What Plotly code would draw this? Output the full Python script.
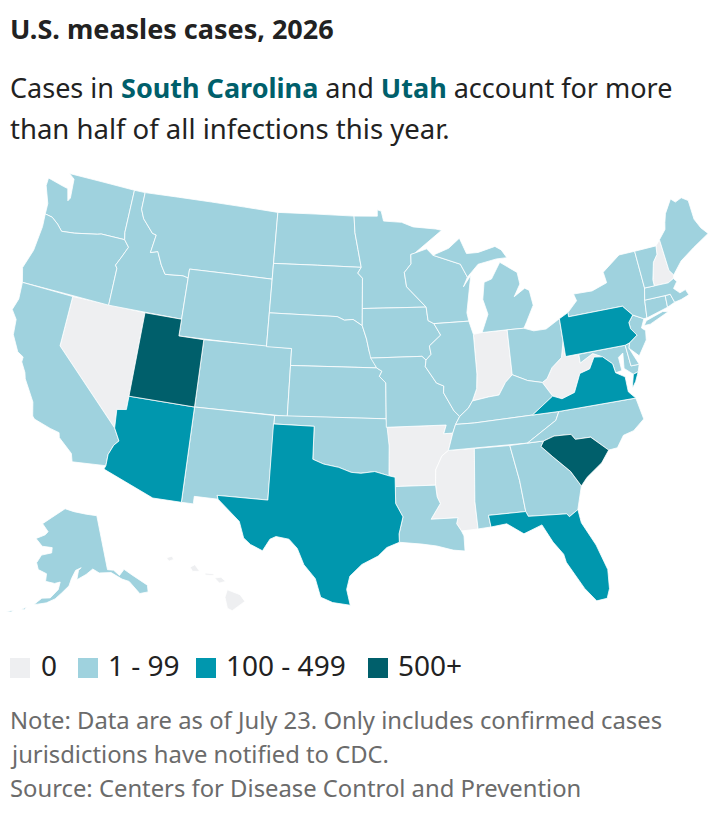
import plotly.graph_objects as go

# Case bucket per state
states_zero = ["NV", "IN", "WV", "AR", "MS", "NH", "HI"]
states_mid = ["AZ", "TX", "FL", "VA", "PA"]
states_high = ["SC", "UT"]
states_low = ["WA", "OR", "CA", "ID", "MT", "WY", "CO", "NM", "ND", "SD", "NE", "KS", "OK",
              "MN", "IA", "MO", "LA", "WI", "IL", "MI", "OH", "KY", "TN", "AL", "GA", "NC",
              "MD", "DE", "NJ", "NY", "CT", "RI", "MA", "VT", "ME", "AK"]

bucket_names = ["0", "1 - 99", "100 - 499", "500+"]
bucket_colors = ["#eeeff1", "#9fd2de", "#0097ae", "#005f6b"]
bucket_states = [states_zero, states_low, states_mid, states_high]

# Hand-approximated state outlines (lon, lat). The plotly topojson needs the CDN, which is
# not reachable here, so these are a coarse stand-in for the base map. None splits parts.
outlines = {
    "WA": [(-124.7,48.38),(-123.2,48.15),(-122.8,48.1),(-122.5,47.4),(-122.35,47.6),(-122.5,48.75),(-123.03,49),(-117.03,49),(-117.04,46.42),(-116.92,45.99),(-118.98,46),(-119.3,45.93),(-121.2,45.65),(-122.3,45.55),(-122.8,45.9),(-123.4,46.2),(-124.05,46.27),(-124.1,46.9),(-124.7,47.9)],
    "OR": [(-124.05,46.27),(-123.4,46.2),(-122.8,45.9),(-122.3,45.55),(-121.2,45.65),(-119.3,45.93),(-118.98,46),(-116.92,45.99),(-116.46,45.6),(-116.85,44.95),(-117.2,44.4),(-117.03,44.23),(-117.03,42),(-124.21,42),(-124.55,42.84),(-124.1,44),(-123.96,45.5)],
    "CA": [(-124.21,42),(-120,42),(-120,39),(-114.63,35),(-114.14,34.3),(-114.45,34),(-114.72,33.4),(-114.72,32.72),(-117.12,32.53),(-117.3,33),(-118.4,33.75),(-118.5,34.03),(-119.2,34.15),(-120.47,34.45),(-120.65,34.6),(-120.9,35.4),(-121.9,36.6),(-122.05,36.95),(-122.5,37.5),(-122.5,37.8),(-123,38),(-123.7,38.9),(-123.83,39.8),(-124.35,40.3),(-124.1,41)],
    "NV": [(-120,42),(-114.04,42),(-114.04,36.2),(-114.74,36.1),(-114.63,35),(-120,39)],
    "ID": [(-117.03,49),(-116.05,49),(-116.05,47.98),(-115.7,47.45),(-114.7,46.7),(-114.35,46.65),(-114.55,45.56),(-113.95,45.7),(-113.45,44.95),(-113,44.45),(-111.5,44.55),(-111.05,44.47),(-111.05,42),(-117.03,42),(-117.03,44.23),(-117.2,44.4),(-116.85,44.95),(-116.46,45.6),(-116.92,45.99),(-117.04,46.42)],
    "MT": [(-116.05,49),(-104.05,49),(-104.05,45),(-111.05,45),(-111.05,44.47),(-111.5,44.55),(-113,44.45),(-113.45,44.95),(-113.95,45.7),(-114.55,45.56),(-114.35,46.65),(-114.7,46.7),(-115.7,47.45),(-116.05,47.98)],
    "WY": [(-111.05,45),(-104.05,45),(-104.05,41),(-111.05,41)],
    "UT": [(-114.04,42),(-111.05,42),(-111.05,41),(-109.05,41),(-109.05,37),(-114.04,37)],
    "CO": [(-109.05,41),(-102.05,41),(-102.05,37),(-109.05,37)],
    "AZ": [(-114.04,37),(-109.05,37),(-109.05,31.33),(-111.07,31.33),(-114.81,32.5),(-114.72,32.72),(-114.72,33.4),(-114.45,34),(-114.14,34.3),(-114.63,35),(-114.74,36.1),(-114.04,36.2)],
    "NM": [(-109.05,37),(-103,37),(-103.04,32),(-106.62,32),(-106.53,31.78),(-108.21,31.78),(-108.21,31.33),(-109.05,31.33)],
    "ND": [(-104.05,49),(-97.23,49),(-97.13,48),(-96.85,47),(-96.56,45.94),(-104.05,45.94)],
    "SD": [(-104.05,45.94),(-96.56,45.94),(-96.85,45.6),(-96.45,45.3),(-96.45,43.5),(-96.45,42.49),(-97.2,42.85),(-97.9,42.8),(-98.5,43),(-104.05,43)],
    "NE": [(-104.05,43),(-98.5,43),(-97.9,42.8),(-97.2,42.85),(-96.45,42.49),(-96.1,41.7),(-95.9,41),(-95.31,40),(-102.05,40),(-102.05,41),(-104.05,41)],
    "KS": [(-102.05,40),(-95.31,40),(-94.9,39.8),(-95.1,39.5),(-94.61,39.11),(-94.62,37),(-102.05,37)],
    "OK": [(-103,37),(-94.62,37),(-94.43,35.4),(-94.48,33.64),(-95.5,33.9),(-96.5,33.8),(-97.2,33.85),(-98.1,34.13),(-99.2,34.3),(-100,34.56),(-100,36.5),(-103,36.5)],
    "TX": [(-103.04,36.5),(-100,36.5),(-100,34.56),(-99.2,34.3),(-98.1,34.13),(-97.2,33.85),(-96.5,33.8),(-95.5,33.9),(-94.48,33.64),(-94.04,33.55),(-94.04,32),(-93.55,31.2),(-93.85,30.2),(-93.84,29.7),(-94.7,29.4),(-95.3,28.9),(-96.4,28.4),(-97.2,27.7),(-97.4,26.9),(-97.15,25.96),(-98.3,26.1),(-99.1,26.4),(-99.5,27.5),(-100.3,28.3),(-100.8,29.25),(-101.4,29.77),(-102.3,29.88),(-102.7,29.7),(-103.15,28.98),(-104,29.3),(-104.5,29.65),(-104.9,30.6),(-106.53,31.78),(-106.62,32),(-103.04,32)],
    "MN": [(-97.23,49),(-95.15,49),(-95.15,49.38),(-94.8,49.3),(-94.6,48.7),(-93,48.6),(-92,48.3),(-90,48.1),(-89.5,48),(-92,46.7),(-92.29,46.66),(-92.3,46.1),(-92.9,45.6),(-92.75,44.75),(-91.2,43.5),(-96.45,43.5),(-96.45,45.3),(-96.85,45.6),(-96.56,45.94),(-96.85,47),(-97.13,48)],
    "IA": [(-96.45,43.5),(-91.2,43.5),(-91.1,42.7),(-90.64,42.5),(-90.15,41.8),(-91.1,41.2),(-91,40.7),(-91.42,40.38),(-91.73,40.61),(-95.77,40.58),(-95.9,41),(-96.1,41.7),(-96.45,42.49)],
    "MO": [(-95.77,40.58),(-91.73,40.61),(-91.42,40.38),(-91.5,40),(-90.7,39),(-90.15,38.8),(-90.2,38.4),(-89.5,37.3),(-89.1,36.95),(-89.45,36.5),(-89.7,36),(-90.37,36),(-90.15,36.5),(-94.62,36.5),(-94.62,37),(-94.61,39.11),(-95.1,39.5),(-94.9,39.8),(-95.31,40)],
    "AR": [(-94.62,36.5),(-90.15,36.5),(-90.37,36),(-89.7,36),(-90.1,35),(-90.6,34.7),(-91.1,33.9),(-91.17,33),(-94.04,33),(-94.04,33.55),(-94.48,33.64),(-94.43,35.4)],
    "LA": [(-94.04,33),(-91.17,33),(-91.1,32.3),(-90.9,31.9),(-91.6,31),(-89.73,31),(-89.85,30.65),(-89.55,30.2),(-89.4,29.9),(-89.4,29),(-90.2,29.1),(-91.3,29.4),(-92.3,29.55),(-93.84,29.7),(-93.85,30.2),(-93.55,31.2),(-94.04,32)],
    "WI": [(-92.29,46.66),(-90.9,46.95),(-90.4,46.55),(-88.1,45.9),(-87.6,45.1),(-88,44.55),(-87.3,45.2),(-87.5,44.5),(-87.9,43),(-87.8,42.5),(-90.64,42.5),(-91.1,42.7),(-91.2,43.5),(-92.75,44.75),(-92.9,45.6),(-92.3,46.1)],
    "IL": [(-90.64,42.5),(-87.8,42.5),(-87.53,41.7),(-87.53,39.35),(-87.65,38.5),(-88.05,37.8),(-88.4,37.4),(-89.1,36.95),(-89.5,37.3),(-90.2,38.4),(-90.15,38.8),(-90.7,39),(-91.5,40),(-91.42,40.38),(-91,40.7),(-91.1,41.2),(-90.15,41.8)],
    "IN": [(-87.53,41.7),(-86.82,41.76),(-84.8,41.76),(-84.82,39.1),(-85.4,38.7),(-86,38),(-86.8,37.95),(-88.05,37.8),(-87.65,38.5),(-87.53,39.35)],
    "OH": [(-84.8,41.76),(-83.45,41.73),(-82.7,41.5),(-81.7,41.5),(-80.52,41.98),(-80.52,40.64),(-80.85,39.7),(-81.7,39.2),(-82.2,38.6),(-82.6,38.42),(-83.7,38.65),(-84.82,39.1)],
    "MI": [(-86.82,41.76),(-84.8,41.76),(-83.45,41.73),(-83.15,42.1),(-82.45,43),(-82.6,43.9),(-82.95,44.07),(-83.9,43.65),(-83.3,44.35),(-83.4,45.05),(-84.75,45.78),(-85.6,44.85),(-86.25,44.7),(-86.5,43.7),(-86.2,42.8), None,
           (-90.4,46.55),(-88.1,45.9),(-87.6,45.1),(-86.6,45.8),(-85,46),(-84.1,46),(-84.5,46.5),(-85,46.75),(-86.5,46.5),(-87.5,46.5),(-88,47.45),(-89,46.9)],
    "KY": [(-89.1,36.95),(-88.4,37.4),(-88.05,37.8),(-86.8,37.95),(-86,38),(-85.4,38.7),(-84.82,39.1),(-83.7,38.65),(-82.6,38.42),(-81.97,37.54),(-83.67,36.6),(-88.05,36.5),(-89.45,36.5)],
    "TN": [(-89.7,36),(-89.45,36.5),(-88.05,36.5),(-83.67,36.6),(-81.68,36.59),(-82,36.1),(-84.3,35),(-90.1,35)],
    "MS": [(-90.1,35),(-88.2,35),(-88.47,31.9),(-88.4,30.25),(-89.55,30.2),(-89.85,30.65),(-89.73,31),(-91.6,31),(-90.9,31.9),(-91.1,32.3),(-91.17,33),(-91.1,33.9),(-90.6,34.7)],
    "AL": [(-88.2,35),(-85.6,34.98),(-85.18,32.87),(-85,31),(-87.6,31),(-87.5,30.3),(-88.4,30.25),(-88.47,31.9)],
    "GA": [(-85.6,34.98),(-83.1,35),(-83.35,34.7),(-82.6,34),(-81.5,33),(-80.9,32.05),(-81.4,30.7),(-82.05,30.36),(-82.2,30.55),(-84.86,30.7),(-85,31),(-85.18,32.87)],
    "FL": [(-87.6,31),(-85,31),(-84.86,30.7),(-82.2,30.55),(-82.05,30.36),(-81.4,30.7),(-81.3,29.9),(-80.55,28.45),(-80.05,26.9),(-80.15,25.75),(-80.4,25.2),(-81.1,25.15),(-81.75,26),(-82.7,27.7),(-82.8,28.2),(-83.4,29),(-84,30.1),(-85.3,29.7),(-86.4,30.4),(-87.5,30.3)],
    "SC": [(-83.1,35),(-82.3,35.2),(-81.05,35.15),(-80.8,34.82),(-79.67,34.8),(-78.55,33.86),(-79.2,33.2),(-80.4,32.5),(-80.9,32.05),(-81.5,33),(-82.6,34),(-83.35,34.7)],
    "NC": [(-84.3,35),(-83.1,35),(-82.3,35.2),(-81.05,35.15),(-80.8,34.82),(-79.67,34.8),(-78.55,33.86),(-77.9,33.9),(-77.3,34.55),(-76.5,34.7),(-75.6,35.25),(-75.85,36.55),(-81.68,36.59),(-82,36.1)],
    "VA": [(-83.67,36.6),(-81.68,36.59),(-75.85,36.55),(-76.3,37),(-76.3,37.9),(-76.95,38.25),(-77.04,38.8),(-77.7,39.32),(-78.35,39.4),(-78.85,38.76),(-79.65,38.6),(-80.3,37.55),(-81.3,37.3),(-81.97,37.54), None,
           (-75.95,37.15),(-75.65,37.95),(-75.25,38.03),(-75.6,37.5)],
    "WV": [(-81.97,37.54),(-81.3,37.3),(-80.3,37.55),(-79.65,38.6),(-78.85,38.76),(-78.35,39.4),(-77.7,39.32),(-78.4,39.62),(-79.48,39.2),(-79.48,39.72),(-80.52,39.72),(-80.52,40.64),(-80.85,39.7),(-81.7,39.2),(-82.2,38.6),(-82.6,38.42)],
    "MD": [(-79.48,39.72),(-75.79,39.72),(-75.69,38.46),(-75.05,38.45),(-75.25,38.03),(-75.65,37.95),(-76.25,38.4),(-76.1,39.3),(-76.5,39.1),(-76.45,38.3),(-76.95,38.25),(-77.04,38.8),(-77.7,39.32),(-78.4,39.62),(-79.48,39.2)],
    "DE": [(-75.79,39.72),(-75.42,39.8),(-75.55,39.5),(-75.05,38.45),(-75.69,38.46)],
    "PA": [(-80.52,41.98),(-79.76,42.25),(-79.76,42),(-75.35,42),(-74.7,41.36),(-75.13,40.98),(-75.1,40.6),(-74.72,40.15),(-75.42,39.8),(-75.79,39.72),(-80.52,39.72)],
    "NJ": [(-74.7,41.36),(-73.9,41),(-74.25,40.5),(-73.98,40.3),(-74.1,39.75),(-74.9,38.93),(-75.55,39.5),(-75.42,39.8),(-74.72,40.15),(-75.1,40.6),(-75.13,40.98)],
    "NY": [(-79.76,42),(-75.35,42),(-74.7,41.36),(-73.9,41),(-73.65,41),(-73.49,42.05),(-73.27,42.75),(-73.35,45),(-74.7,45),(-76.3,44.2),(-76.2,43.55),(-77.5,43.25),(-79.05,43.27),(-78.9,42.85),(-79.76,42.25), None,
           (-74,40.6),(-73.75,40.85),(-72.3,41.15),(-71.9,41.05),(-73.5,40.6)],
    "CT": [(-73.49,42.05),(-71.8,42.02),(-71.85,41.32),(-73.65,41)],
    "RI": [(-71.8,42.02),(-71.38,42.02),(-71.2,41.5),(-71.85,41.32)],
    "MA": [(-73.49,42.05),(-73.27,42.75),(-71.3,42.7),(-70.8,42.87),(-70.6,42.65),(-71,42.3),(-70.6,41.95),(-70.1,42.05),(-69.95,41.7),(-70.65,41.55),(-71.2,41.5),(-71.38,42.02),(-71.8,42.02)],
    "VT": [(-73.35,45),(-71.5,45),(-71.6,44.5),(-72.05,44.1),(-72.45,43.1),(-72.46,42.73),(-73.27,42.75)],
    "NH": [(-71.5,45),(-71.08,45.3),(-70.98,43.4),(-70.7,43.07),(-70.8,42.87),(-71.3,42.7),(-72.46,42.73),(-72.45,43.1),(-72.05,44.1),(-71.6,44.5)],
    "ME": [(-71.08,45.3),(-70.4,45.8),(-70.25,46.2),(-70,46.7),(-69.23,47.46),(-68.9,47.2),(-68.3,47.35),(-67.79,47.07),(-67.78,45.9),(-67.45,45.3),(-67,44.85),(-68.5,44.3),(-69.8,43.75),(-70.7,43.07),(-70.98,43.4)],
    "AK": [(-141,69.65),(-141,60.3),(-139,60),(-137.5,58.9),(-135.5,59.7),(-133.5,58.4),(-130,55.9),(-130.5,54.8),(-133,55),(-135,57.5),(-137,58.2),(-140,59.7),(-144,60),(-146,60.8),(-148.5,60),(-151.7,59.2),(-151,60.8),(-150,61.2),(-152,60.8),(-153.5,59.4),(-154.3,58.2),(-156.5,57),(-158.5,55.9),(-161,55.1),(-163.5,54.7),(-164.5,54.6),(-162.5,55.8),(-160,56),(-157.7,57.5),(-157.2,58.8),(-159,58.5),(-162,58.7),(-162,60),(-165,60.5),(-166,61.6),(-164.7,63),(-161,63.6),(-161,64.5),(-165,64.5),(-168,65.6),(-164.5,66.5),(-163.5,67.1),(-166.5,68.3),(-163,69.5),(-156.5,71.3),(-152,70.8),(-146,70.2), None,
           (-168,53.3),(-166.5,53.9),(-167,53.4), None,
           (-172,52.3),(-170,52.9),(-170.5,52.5)],
    "HI": [(-155.9,20.2),(-155.1,19.9),(-154.8,19.5),(-155.6,18.95),(-155.9,19.1),(-156.05,19.75), None,
           (-156.7,20.9),(-156.3,20.95),(-156,20.7),(-156.4,20.6), None,
           (-158.25,21.55),(-157.95,21.7),(-157.65,21.3),(-158.1,21.3), None,
           (-159.75,22.1),(-159.4,22.2),(-159.3,22),(-159.6,21.9), None,
           (-157.3,21.2),(-156.75,21.15),(-156.75,21.05),(-157.3,21.08)],
}

# Albers USA is fitted with a wide empty frame, so the figure is wider than the page and
# pulled left by OFFSET_X. Positions below are page pixels.
OFFSET_X = 100
W = 720 + 2 * OFFSET_X
H = 820
FONT = "Noto Sans"
INK = "#222222"
GREY = "#6b6b6b"

PAGE_SCRIPT = (
    "document.body.style.margin='0';"
    "document.body.style.overflow='hidden';"
    "var gd=document.querySelector('.plotly-graph-div');"
    "gd.style.position='absolute';gd.style.top='0';"
    f"gd.style.left='-{OFFSET_X}px';"
)


def page_x(x):
    return (x + OFFSET_X) / W


def page_y(y):
    return 1 - y / H


def clockwise_parts(points):
    # d3 treats a counter-clockwise ring as the whole globe minus the ring
    parts, part = [], []
    for p in points + [None]:
        if p is None:
            area = sum((part[i][0] - part[i - 1][0]) * (part[i][1] + part[i - 1][1]) for i in range(len(part)))
            parts.append(part if area > 0 else part[::-1])
            part = []
        else:
            part.append(p)
    return parts


def add_state(fig, code, color):
    lons, lats = [], []
    for part in clockwise_parts(outlines[code]):
        closed = part + part[:1]
        lons += [p[0] for p in closed] + [None]
        lats += [p[1] for p in closed] + [None]
    fig.add_trace(go.Scattergeo(lon=lons[:-1], lat=lats[:-1], mode="lines", fill="toself", fillcolor=color,
                                line=dict(color="white", width=0.8), name=code, showlegend=False,
                                hoverinfo="name"))


def add_text(fig, x, y, text, size, color=INK):
    fig.add_annotation(x=page_x(x), y=page_y(y), xref="paper", yref="paper",
                       text=text, showarrow=False, xanchor="left", yanchor="middle", align="left",
                       xshift=-2, font=dict(family=FONT, size=size, color=color))


fig = go.Figure()

for color, states in zip(bucket_colors, bucket_states):
    for code in states:
        add_state(fig, code, color)

fig.update_geos(
    scope="usa",
    projection_type="albers usa",
    bgcolor="rgba(0,0,0,0)",
    showland=False,
    showlakes=False,
    showocean=False,
    showrivers=False,
    showcountries=False,
    showcoastlines=False,
    showsubunits=False,
    showframe=False,
    domain=dict(x=[page_x(-79), page_x(799)], y=[page_y(630), page_y(150)]),
)

add_text(fig, 10, 28, "<b>U.S. measles cases, 2026</b>", 27)
add_text(fig, 10, 88, "Cases in <b><span style='color:#005f6b'>South Carolina</span></b> and "
                      "<b><span style='color:#005f6b'>Utah</span></b> account for more", 27)
add_text(fig, 10, 128, "than half of all infections this year.", 27.5)

# Legend swatches and labels
swatch_x = [10, 78, 196, 368]
label_x = [41, 108, 226, 398]
for name, color, sx, lx in zip(bucket_names, bucket_colors, swatch_x, label_x):
    fig.add_shape(type="rect", xref="paper", yref="paper", x0=page_x(sx), x1=page_x(sx + 20),
                  y0=page_y(678), y1=page_y(658), fillcolor=color, line_width=0)
    add_text(fig, lx, 665, name, 28)

add_text(fig, 10, 720, "Note: Data are as of July 23. Only includes confirmed cases", 23.8, GREY)
add_text(fig, 10, 754, "jurisdictions have notified to CDC.", 23.8, GREY)
add_text(fig, 10, 788, "Source: Centers for Disease Control and Prevention", 23.8, GREY)

fig.update_layout(
    width=W,
    height=H,
    margin=dict(l=0, r=0, t=0, b=0),
    paper_bgcolor="white",
    font=dict(family=FONT, color=INK),
)

fig.write_html("out.html", post_script=PAGE_SCRIPT, config={"displayModeBar": False})
